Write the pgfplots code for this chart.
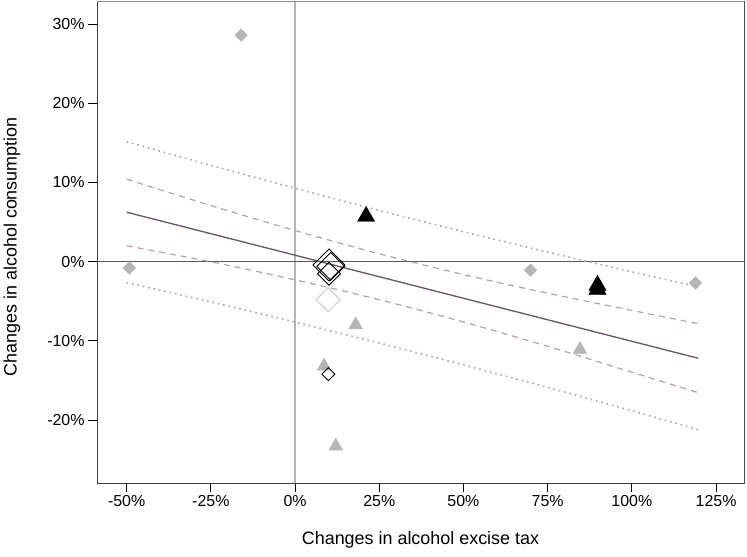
\documentclass[border=0pt]{standalone}
\usepackage{fontspec}
\setmainfont{Liberation Sans}
\usepackage{pgfplots}
\pgfplotsset{compat=1.18}
\definecolor{ptgray}{HTML}{B5B5B5}
\definecolor{fitline}{HTML}{6A506E}
\definecolor{ciline}{HTML}{B89DB4}
\definecolor{piline}{HTML}{A8A8A8}
\begin{document}
\begin{tikzpicture}
\path[use as bounding box] (-97bp,-74bp) rectangle (650bp,483bp);
\begin{axis}[
 at={(0,0)}, anchor=south west,
 scale only axis, width=647bp, height=482bp,
 xmin=-58.8, xmax=133.3, ymin=-27.95, ymax=32.9,
 axis line style={draw=black!75, line width=0.8bp},
 xtick={-50,-25,0,25,50,75,100,125},
 xticklabels={-50\%,-25\%,0\%,25\%,50\%,75\%,100\%,125\%},
 ytick={-20,-10,0,10,20,30},
 yticklabels={-20\%,-10\%,0\%,10\%,20\%,30\%},
 xtick pos=left, ytick pos=left,
 tick align=outside, major tick length=9bp,
 every tick/.style={black, line width=0.8bp},
 tick label style={font=\fontsize{16}{19}\selectfont},
 xlabel={Changes in alcohol excise tax},
 ylabel={Changes in alcohol consumption},
 label style={font=\fontsize{18}{21}\selectfont},
 xlabel style={at={(axis description cs:0.5,-0.1183)}, anchor=center},
 ylabel style={at={(axis description cs:-0.1314,0.49)}, anchor=center},
]
% reference lines
\addplot[draw=ptgray, line width=1.6bp, forget plot] coordinates {(0,-27.95) (0,32.9)};
\addplot[draw=black!65, line width=0.8bp, forget plot] coordinates {(-58.8,0) (133.3,0)};
% gray frame on top/right
\addplot[draw=black!45, line width=0.9bp, forget plot] coordinates {(-58.8,32.9) (133.3,32.9) (133.3,-27.95)};
% prediction band (dotted)
\addplot[draw=piline, line width=1.6bp, dash pattern=on 1.6bp off 3.9bp, smooth] coordinates {
 (-50,15.13) (-25,12.15) (0,9.26) (25,6.46) (50,3.78) (75,1.20) (100,-1.29) (119.7,-3.18)};
\addplot[draw=piline, line width=1.6bp, dash pattern=on 1.6bp off 3.9bp, smooth] coordinates {
 (-50,-2.65) (-25,-5.09) (0,-7.64) (25,-10.28) (50,-13.04) (75,-15.88) (100,-18.83) (119.7,-21.22)};
% confidence band (dashed)
\addplot[draw=ciline, line width=1.2bp, dash pattern=on 6bp off 5bp, smooth] coordinates {
 (-50,10.40) (-25,7.08) (0,3.92) (25,0.99) (50,-1.64) (75,-3.99) (100,-6.16) (119.7,-7.85)};
\addplot[draw=ciline, line width=1.2bp, dash pattern=on 6bp off 5bp, smooth] coordinates {
 (-50,2.00) (-25,-0.02) (0,-2.30) (25,-4.81) (50,-7.62) (75,-10.69) (100,-13.96) (119.7,-16.55)};
% fitted line
\addplot[draw=fitline, line width=1.3bp] coordinates {(-50,6.24) (119.7,-12.20)};
% gray filled diamonds
\addplot[only marks, mark=square*, mark size=4.5bp, mark options={rotate=45, fill=ptgray, draw=ptgray}] coordinates {
 (-49.2,-0.8) (-16.0,28.6) (69.9,-1.1) (118.9,-2.7)};
% gray filled triangles
\addplot[only marks, mark=triangle*, mark size=8bp, mark options={fill=ptgray, draw=ptgray}] coordinates {
 (18.0,-8.0) (8.6,-13.2) (12.1,-23.3) (84.6,-11.1)};
% black triangles
\addplot[only marks, mark=triangle*, mark size=10bp, mark options={fill=black, draw=black}] coordinates {
 (21.1,5.7) (89.8,-3.0) (89.8,-3.5)};
% open diamonds
\addplot[only marks, mark=square, mark size=8.5bp, mark options={rotate=45, draw=black!22, line width=0.9bp}] coordinates {(9.8,-4.8)};
\addplot[only marks, mark=square, mark size=11.3bp, mark options={rotate=45, draw=black, line width=0.9bp, fill=none}] coordinates {(10.07,-0.43)};
\addplot[only marks, mark=square, mark size=9.8bp, mark options={rotate=45, draw=black, line width=0.9bp, fill=none}] coordinates {(10.6,-0.6)};
\addplot[only marks, mark=square, mark size=8.1bp, mark options={rotate=45, draw=black, line width=0.9bp, fill=none}] coordinates {(10.07,-1.53)};
\addplot[only marks, mark=square, mark size=4.6bp, mark options={rotate=45, draw=black, line width=0.9bp, fill=none}] coordinates {(9.9,-14.2)};
\end{axis}
\end{tikzpicture}
\end{document}
